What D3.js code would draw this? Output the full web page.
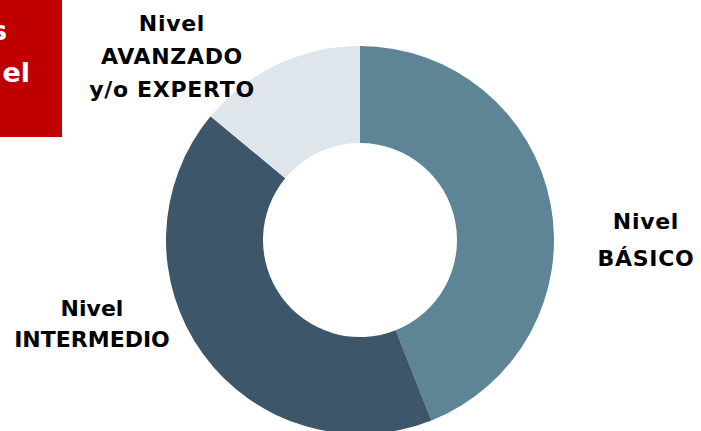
<!DOCTYPE html>
<html>
<head>
<meta charset="utf-8">
<script src="https://cdn.jsdelivr.net/npm/d3@7"></script>
<style>
  html, body { margin: 0; padding: 0; background: #fff; }
  svg { display: block; }
  text { font-family: "DejaVu Sans", sans-serif; font-weight: bold; }
</style>
</head>
<body>
<div id="chart"></div>
<script>
// Share of respondents per skill level (%)
const levels = ["Nivel BÁSICO", "Nivel INTERMEDIO", "Nivel AVANZADO y/o EXPERTO"];
const shares = [44, 42, 14];
const labelLines = [
  ["Nivel", "BÁSICO"],
  ["Nivel", "INTERMEDIO"],
  ["Nivel", "AVANZADO", "y/o EXPERTO"]
];
const colors = ["#5e8596", "#3d5669", "#dee6ec"];
// Title fragments in the red header box (right-aligned, clipped at the left edge)
const headerLines = ["s", "el"];

const W = 701, H = 431;
const cx = 360, cy = 240, outerR = 194, innerR = 97;

const svg = d3.select("#chart").append("svg")
  .attr("width", W).attr("height", H);

// red header box
svg.append("rect")
  .attr("x", 0).attr("y", 0).attr("width", 62).attr("height", 137)
  .attr("fill", "#c00000");
svg.append("g").selectAll("text").data(headerLines).join("text")
  .attr("text-anchor", "end")
  .attr("x", (d, i) => i === 0 ? 7 : 30)
  .attr("y", (d, i) => 40 + i * 42)
  .attr("fill", "#fff")
  .attr("font-size", 27)
  .text(d => d);

const data = levels.map((name, i) => ({ name, value: shares[i], color: colors[i], lines: labelLines[i] }));

const pie = d3.pie().value(d => d.value).sort(null);
const arc = d3.arc().innerRadius(innerR).outerRadius(outerR);

svg.append("g")
  .attr("transform", `translate(${cx},${cy})`)
  .selectAll("path")
  .data(pie(data))
  .join("path")
  .attr("d", arc)
  .attr("fill", d => d.data.color);

// category labels placed around the ring
const labelPos = [
  { x: 646, y: 229, gap: 37, ls: 0.7 },
  { x: 92, y: 316, gap: 31, ls: 0 },
  { x: 172, y: 31, gap: 33, ls: 0.7 }
];
const lg = svg.append("g");
data.forEach((d, i) => {
  const t = lg.append("text")
    .attr("text-anchor", "middle")
    .attr("font-size", 22)
    .attr("letter-spacing", labelPos[i].ls)
    .attr("fill", "#000");
  d.lines.forEach((ln, j) => {
    t.append("tspan")
      .attr("x", labelPos[i].x)
      .attr("y", labelPos[i].y + j * labelPos[i].gap)
      .text(ln);
  });
});
</script>
</body>
</html>
